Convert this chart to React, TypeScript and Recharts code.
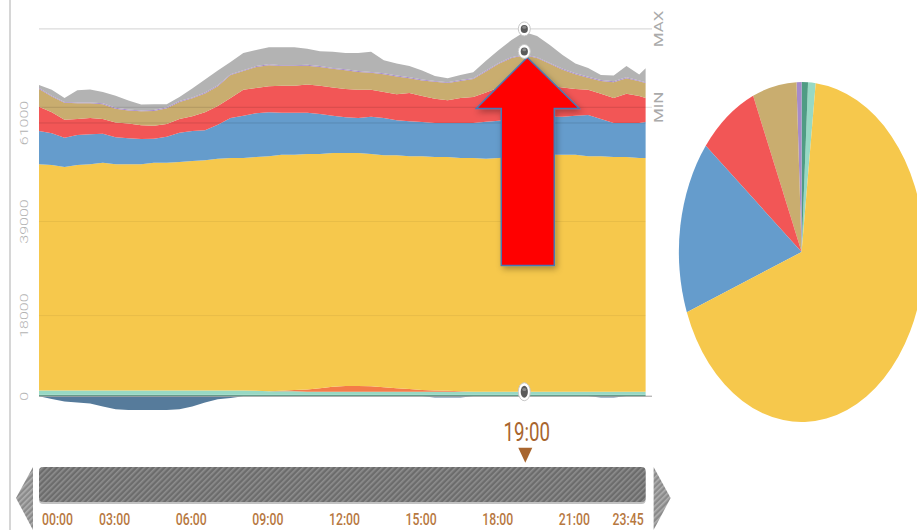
import React from "react";
import {
  ComposedChart,
  Area,
  XAxis,
  YAxis,
  ReferenceLine,
  ReferenceDot,
  ReferenceArea,
  PieChart,
  Pie,
  Cell,
} from "recharts";

// half-hour samples of the day (MW)
const hours = [
  0, 0.5, 1, 1.5, 2, 2.5, 3, 3.5, 4, 4.5, 5, 5.5, 6, 6.5, 7, 7.5, 8, 8.5, 9, 9.5, 10, 10.5, 11, 11.5, 12,
  12.5, 13, 13.5, 14, 14.5, 15, 15.5, 16, 16.5, 17, 17.5, 18, 18.5, 19, 19.5, 20, 20.5, 21, 21.5, 22, 22.5,
  23, 23.5, 23.75,
];
const pumping = [
  0, -600, -1200, -1400, -1600, -2300, -2900, -3100, -3100, -3100, -3100, -2900, -2300, -1400, -700, -400, 0,
  0, 0, 0, 0, 0, 0, 0, 0, 0, 0, 0, 0, 0, 0, -300, -300, -300, 0, 0, 0, 0, 0, 0, 0, 0, 0, 0, -300, -300, 0, 0, 0,
];
const bio = [
  300, 300, 300, 300, 300, 300, 300, 300, 300, 300, 300, 300, 300, 300, 300, 300, 300, 300, 300, 300, 300,
  300, 300, 300, 300, 300, 300, 300, 300, 300, 300, 300, 300, 300, 300, 300, 300, 300, 300, 300, 300, 300,
  300, 300, 300, 300, 300, 300, 300,
];
const wind = [
  1000, 1000, 1000, 1000, 1000, 1000, 1000, 1000, 1000, 1000, 1000, 1000, 1000, 1000, 1000, 1000, 1000, 900,
  800, 800, 800, 700, 700, 700, 700, 700, 700, 700, 700, 700, 700, 700, 700, 700, 700, 700, 700, 700, 700,
  700, 700, 700, 700, 700, 700, 700, 700, 700, 700,
];
const solar = [
  0, 0, 0, 0, 0, 0, 0, 0, 0, 0, 0, 0, 0, 0, 0, 0, 0, 0, 0, 100, 300, 500, 800, 1100, 1300, 1300, 1200, 1000,
  800, 600, 400, 300, 200, 100, 0, 0, 0, 0, 0, 0, 0, 0, 0, 0, 0, 0, 0, 0, 0,
];
const nuclear = [
  50500, 50300, 49900, 50300, 50500, 50800, 50500, 50500, 50500, 50800, 50800, 51000, 51200, 51400, 51700,
  51900, 51900, 52200, 52500, 52700, 52500, 52600, 52300, 52200, 52000, 52000, 51900, 51800, 52000, 52000,
  52200, 52100, 52200, 52100, 52200, 52000, 52200, 52400, 52600, 52600, 52900, 52900, 52900, 52600, 52600,
  52400, 52400, 52200, 52200,
];
const hydro = [
  7400, 7100, 6500, 6700, 6700, 6500, 6000, 5800, 5600, 5400, 5800, 6500, 6700, 6700, 7600, 8900, 9400, 9800,
  9800, 9400, 9400, 9200, 8900, 8300, 8000, 7800, 8300, 8300, 7800, 7800, 7600, 7600, 7600, 7800, 7800, 8300,
  8300, 8500, 8500, 8700, 8500, 8500, 8700, 9200, 8300, 7600, 7600, 7800, 8000,
];
const gas = [
  5400, 4700, 4000, 3600, 3600, 3300, 3300, 3300, 3100, 2900, 2900, 3100, 3300, 4000, 4200, 4500, 5800, 5600,
  5800, 6000, 6000, 6300, 6300, 6300, 6300, 6300, 6000, 5800, 5800, 6300, 5800, 5400, 5100, 5600, 5800, 6500,
  7400, 7800, 8000, 7400, 6900, 6500, 6000, 5600, 5600, 5600, 6500, 6000, 5400,
];
const coal = [
  4000, 3500, 3800, 3500, 3300, 3300, 3100, 2900, 3100, 3300, 3500, 3800, 4000, 4200, 4400, 5100, 4200, 4700,
  4700, 4400, 4400, 4200, 4200, 4200, 4200, 4000, 3800, 4000, 4000, 3300, 3500, 3800, 3800, 3800, 4000, 4700,
  5300, 5800, 6000, 5800, 4900, 4000, 3300, 2700, 2900, 3500, 3500, 3300, 3300,
];
const oil = [
  200, 200, 200, 200, 200, 200, 200, 200, 200, 200, 200, 200, 200, 200, 200, 200, 200, 200, 200, 200, 200,
  200, 200, 200, 200, 200, 200, 200, 200, 200, 200, 200, 200, 200, 200, 200, 200, 200, 200, 200, 200, 200,
  200, 200, 200, 200, 200, 200, 200,
];
const imports = [
  700, 1300, 900, 2700, 2900, 2500, 2700, 2000, 1300, 1300, 700, 900, 2000, 2900, 3300, 2700, 3800, 3600,
  3800, 4000, 4000, 3600, 3300, 3600, 3600, 4000, 4500, 2900, 2700, 2500, 2000, 1100, 900, 1100, 1300, 2200,
  2900, 3800, 5000, 4700, 4000, 3100, 2200, 2000, 1100, 1300, 2500, 1300, 3100,
];

const yTicks = [0, 18000, 39000, 61000];
const timeTicks = [0, 3, 6, 9, 12, 15, 18, 21, 23.75];
const timeLabels = ["00:00", "03:00", "06:00", "09:00", "12:00", "15:00", "18:00", "21:00", "23:45"];
const MAX_LOAD = 82000;
const MIN_LOAD = 64500;
const CURSOR_HOUR = 19;
const cursorLabel = "19:00";
// scroll bar band, below the plot
const BAR_TOP = -15800;
const BAR_BOTTOM = -23600;

const pieNames = ["wind", "bio", "oil", "coal", "gas", "hydro", "nuclear"];
const pieShares = [1.0, 0.83, 0.67, 5.8, 7.8, 16.5, 67.4];

const colors: Record<string, string> = {
  pumping: "#567b9b",
  bio: "#4f9c84",
  wind: "#97d9c4",
  solar: "#f47b48",
  nuclear: "#f6c84c",
  hydro: "#659ccc",
  gas: "#f25656",
  coal: "#c9ad6f",
  oil: "#a68bca",
  imports: "#b3b3b3",
};

const series: [string, number[]][] = [
  ["pumping", pumping],
  ["bio", bio],
  ["wind", wind],
  ["solar", solar],
  ["nuclear", nuclear],
  ["hydro", hydro],
  ["gas", gas],
  ["coal", coal],
  ["oil", oil],
  ["imports", imports],
];

const rows = hours.map((hour, i) => {
  const row: Record<string, number> = { hour };
  series.forEach(([key, vals]) => (row[key] = vals[i]));
  return row;
});

const pieData = pieNames.map((name, i) => ({ name, value: pieShares[i] }));

const ci = hours.indexOf(CURSOR_HOUR);
const windTop = bio[ci] + wind[ci];
const oilTop =
  bio[ci] + wind[ci] + solar[ci] + nuclear[ci] + hydro[ci] + gas[ci] + coal[ci] + oil[ci];

const SQUEEZE = 0.72;
const FONT = "Roboto, 'DejaVu Sans', sans-serif";
const BROWN = "#b7783f";

const YTick = (props: any) => (
  <text
    transform={`translate(24, ${props.y}) scale(${SQUEEZE}, 1) rotate(-90)`}
    textAnchor="middle"
    dominantBaseline="central"
    fill="#b3b3b3"
    fontSize={16}
    fontWeight={300}
    fontFamily={FONT}>
    {props.payload.value}
  </text>
);

const TimeTick = (props: any) => {
  const i = timeTicks.indexOf(props.payload.value);
  const last = i === timeTicks.length - 1;
  const anchor = i === 0 ? "start" : last ? "end" : "middle";
  const dx = i === 0 ? 3 : last ? -2 : -1;
  return (
    <text
      transform={`translate(${props.x + dx}, 525) scale(${SQUEEZE}, 1)`}
      textAnchor={anchor}
      fill={BROWN}
      fontSize={17}
      fontWeight={500}
      fontFamily={FONT}>
      {timeLabels[i]}
    </text>
  );
};

const SideLabel = (props: any) => {
  const vb = props.viewBox || {};
  return (
    <text
      transform={`translate(${vb.x + vb.width + 7}, ${vb.y}) scale(${SQUEEZE}, 1) rotate(-90)`}
      textAnchor="middle"
      dominantBaseline="central"
      fill="#aaaaaa"
      fontSize={17}
      fontFamily={FONT}>
      {props.text}
    </text>
  );
};

const Pill = ({ cx, cy, ry }: { cx: number; cy: number; ry: number }) => (
  <g>
    <ellipse cx={cx} cy={cy} rx={6} ry={ry + 2} fill="#fff" stroke="#c8c8c8" strokeWidth={1} />
    <ellipse cx={cx} cy={cy} rx={3.6} ry={ry - 1} fill="#5a5a5a" />
    <ellipse cx={cx} cy={cy - ry / 3} rx={2} ry={1.5} fill="#8a8a8a" />
  </g>
);

const Arrow = (props: any) => {
  const { cx, cy } = props;
  const tx = cx + 3;
  const ty = cy + 3;
  const pts = [
    [tx, ty],
    [tx + 52, ty + 51],
    [tx + 27, ty + 51],
    [tx + 27, ty + 208],
    [tx - 26, ty + 208],
    [tx - 26, ty + 51],
    [tx - 51, ty + 51],
  ]
    .map((p) => p.join(","))
    .join(" ");
  return (
    <polygon points={pts} fill="#ff0000" stroke="#4a78b4" strokeWidth={1.5} filter="url(#arrowShadow)" />
  );
};

const Cursor = (props: any) => {
  const { cx, cy } = props;
  return (
    <g>
      <Pill cx={cx} cy={cy} ry={7} />
      <text
        transform={`translate(${cx + 2.5}, ${cy + 49}) scale(${SQUEEZE}, 1)`}
        textAnchor="middle"
        fill="#a8652e"
        fontSize={26}
        fontFamily={FONT}>
        {cursorLabel}
      </text>
      <polygon
        points={`${cx - 6},${cy + 56} ${cx + 8},${cy + 56} ${cx + 1},${cy + 71}`}
        fill="#a8652e"
      />
    </g>
  );
};

const ScrollBar = (props: any) => {
  const { x, y, width, height } = props;
  const right = x + width;
  return (
    <g>
      <rect x={x} y={y + 2} width={width} height={height} rx={4} fill="#333" opacity={0.3} />
      <rect x={x} y={y} width={width} height={height} rx={4} fill="url(#hatch)" />
      <polygon points={`${x - 6},${y} ${x - 6},${y + 63} ${x - 23},${y + 31}`} fill="url(#hatchLight)" />
      <polygon
        points={`${right + 8},${y} ${right + 8},${y + 63} ${right + 25},${y + 31}`}
        fill="url(#hatchLight)"
      />
    </g>
  );
};

const App = () => {
  return (
    <div
      style={{
        position: "absolute",
        left: 0,
        top: 0,
        width: 917,
        height: 530,
        overflow: "hidden",
        background: "#fff",
      }}>
      <div
        style={{ position: "absolute", left: 9, top: 0, width: 1.5, height: 530, background: "#d6d6d6" }}
      />
      <ComposedChart
        width={917}
        height={530}
        data={rows}
        stackOffset="sign"
        margin={{ top: 11, right: 265, bottom: 0, left: 0 }}>
        <defs>
          <pattern id="hatch" width="4" height="4" patternUnits="userSpaceOnUse" patternTransform="rotate(45)">
            <rect width="4" height="4" fill="#6c6c6c" />
            <rect width="1.6" height="4" fill="#8e8e8e" />
          </pattern>
          <pattern
            id="hatchLight"
            width="4"
            height="4"
            patternUnits="userSpaceOnUse"
            patternTransform="rotate(45)">
            <rect width="4" height="4" fill="#8a8a8a" />
            <rect width="1.6" height="4" fill="#b0b0b0" />
          </pattern>
          <filter id="arrowShadow" x="-30%" y="-20%" width="160%" height="140%">
            <feDropShadow dx="2" dy="3" stdDeviation="3" floodColor="#000" floodOpacity="0.3" />
          </filter>
        </defs>
        <XAxis
          type="number"
          dataKey="hour"
          domain={[0, 24]}
          ticks={timeTicks}
          interval={0}
          tick={<TimeTick />}
          axisLine={false}
          tickLine={false}
          height={89}
        />
        <YAxis
          type="number"
          domain={[-10000, 86000]}
          ticks={yTicks}
          interval={0}
          tick={<YTick />}
          axisLine={false}
          tickLine={false}
          width={39}
        />
        {series.map(([key]) => (
          <Area
            key={key}
            dataKey={key}
            stackId="mix"
            type="linear"
            fill={colors[key]}
            fillOpacity={1}
            stroke="none"
            dot={false}
            activeDot={false}
            isAnimationActive={false}
          />
        ))}
        <ReferenceLine y={0} stroke="#9e9e9e" strokeWidth={1} />
        {yTicks.slice(1).map((t) => (
          <ReferenceLine
            key={t}
            segment={[
              { x: 0, y: t },
              { x: 23.75, y: t },
            ]}
            stroke="#000"
            strokeOpacity={t === 61000 ? 0.12 : 0.06}
          />
        ))}
        <ReferenceLine
          y={MAX_LOAD}
          stroke="#000"
          strokeOpacity={0.18}
          label={<SideLabel text="MAX" />}
        />
        <ReferenceLine
          y={MIN_LOAD}
          stroke="#000"
          strokeOpacity={0.12}
          label={<SideLabel text="MIN" />}
        />
        <ReferenceArea
          x1={0}
          x2={23.75}
          y1={BAR_TOP}
          y2={BAR_BOTTOM}
          ifOverflow="visible"
          shape={<ScrollBar />}
        />
        <ReferenceDot x={CURSOR_HOUR} y={oilTop} ifOverflow="visible" shape={<Arrow />} />
        <ReferenceDot
          x={CURSOR_HOUR}
          y={MAX_LOAD}
          ifOverflow="visible"
          shape={(p: any) => <Pill cx={p.cx} cy={p.cy} ry={5} />}
        />
        <ReferenceDot
          x={CURSOR_HOUR}
          y={oilTop}
          ifOverflow="visible"
          shape={(p: any) => <Pill cx={p.cx} cy={p.cy - 3} ry={5} />}
        />
        <ReferenceDot x={CURSOR_HOUR} y={windTop} ifOverflow="visible" shape={<Cursor />} />
      </ComposedChart>
      <div
        style={{
          position: "absolute",
          left: 798 - 175,
          top: 247 - 175,
          width: 350,
          height: 350,
          transform: "scaleX(0.722)",
          transformOrigin: "175px 175px",
        }}>
        <PieChart width={350} height={350}>
          <Pie
            data={pieData}
            dataKey="value"
            nameKey="name"
            cx={175}
            cy={175}
            outerRadius={170}
            startAngle={83.4}
            endAngle={443.4}
            stroke="none"
            isAnimationActive={false}>
            {pieData.map((d) => (
              <Cell key={d.name} fill={colors[d.name]} />
            ))}
          </Pie>
        </PieChart>
      </div>
    </div>
  );
};

export default App;
